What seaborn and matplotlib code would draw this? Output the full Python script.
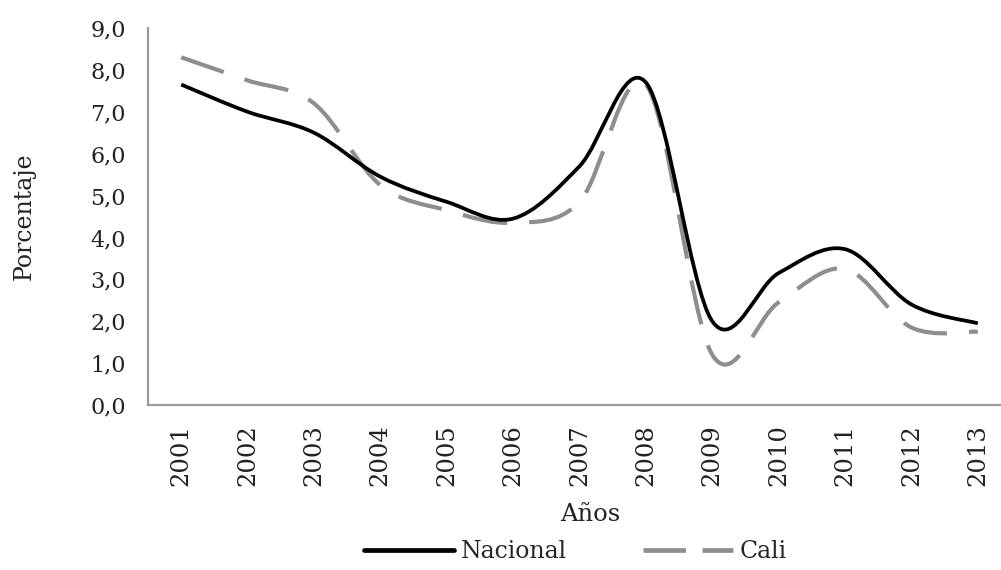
import numpy as np
import pandas as pd
import seaborn as sns
import matplotlib.pyplot as plt
from matplotlib.path import Path
from matplotlib.patches import PathPatch
from matplotlib.lines import Line2D


years = list(range(2001, 2014))
nacional = [7.65, 7.0, 6.5, 5.45, 4.85, 4.45, 5.7, 7.7, 2.0, 3.15, 3.72, 2.4, 1.95]
cali = [8.3, 7.75, 7.2, 5.25, 4.65, 4.35, 4.85, 7.65, 1.2, 2.45, 3.25, 1.85, 1.75]
series = ["Nacional", "Cali"]
colors = {"Nacional": "black", "Cali": "#8e8e8e"}

sns.set_style("white")
plt.rcParams["font.family"] = ["DejaVu Serif"]
plt.rcParams["font.size"] = 16

df = pd.DataFrame({
    "Años": years * 2,
    "Porcentaje": nacional + cali,
    "Serie": ["Nacional"] * len(years) + ["Cali"] * len(years),
})

fig = plt.figure(figsize=(10.01, 5.70), dpi=100)
ax = fig.add_axes([148 / 1001, 165 / 570, 863 / 1001, 377 / 570])

sns.lineplot(data=df, x="Años", y="Porcentaje", hue="Serie",
             hue_order=series, palette=colors, legend=False, ax=ax)


def smooth_path(x, y):
    """ Excel-like smoothed line: cubic Bezier through the points """
    pts = np.column_stack([x, y])
    verts = [pts[0]]
    codes = [Path.MOVETO]
    n = len(pts)
    for i in range(n - 1):
        p0 = pts[max(i - 1, 0)]
        p1 = pts[i]
        p2 = pts[i + 1]
        p3 = pts[min(i + 2, n - 1)]
        c1 = p1 + (p2 - p0) / 6.0
        c2 = p2 - (p3 - p1) / 6.0
        verts += [c1, c2, p2]
        codes += [Path.CURVE4] * 3
    return Path(verts, codes)


""" replace seaborn's straight segments with smoothed curves """
styles = {
    "Nacional": dict(lw=2.7, ls="-", z=4),
    "Cali": dict(lw=3.0, ls=(0, (10.8, 5.3)), z=3),
}
for line, name in zip(list(ax.lines), series):
    x, y = line.get_data()
    line.set_visible(False)
    st = styles[name]
    ax.add_patch(PathPatch(smooth_path(x, y), facecolor="none",
                           edgecolor=colors[name], lw=st["lw"],
                           linestyle=st["ls"], zorder=st["z"],
                           capstyle="butt"))

ax.set_xlim(2000.5, 2013.5)
ax.set_ylim(0, 9)
ax.set_xticks(years)
ax.set_xticklabels([str(y) for y in years], rotation=90, fontsize=17.5)
ax.set_xticks(np.arange(2000.5, 2013.6, 1.0), minor=True)
ax.set_yticks(range(0, 10))
ax.set_yticklabels([f"{v:.1f}".replace(".", ",") for v in range(0, 10)])

sns.despine(ax=ax)
for side in ["left", "bottom"]:
    ax.spines[side].set_color("#9a9a9a")
    ax.spines[side].set_linewidth(1.6)

ax.tick_params(axis="y", which="major", direction="out", length=7,
               width=1.4, color="#9a9a9a", pad=9, labelcolor="#222222")
ax.tick_params(axis="x", which="major", length=0, pad=14,
               labelcolor="#222222")
ax.tick_params(axis="x", which="minor", direction="out", length=6,
               width=1.4, color="#9a9a9a")

ax.set_xlabel("Años", color="#222222", fontsize=17.5)
ax.set_ylabel("Porcentaje", color="#222222", fontsize=17)
ax.xaxis.set_label_coords(0.512, -0.26)
ax.yaxis.set_label_coords(-0.13, 0.5)

handles = [
    Line2D([], [], color=colors["Nacional"], lw=3.4, ls="-"),
    Line2D([], [], color=colors["Cali"], lw=3.4, ls=(0, (9, 3.5))),
]
fig.legend(handles, series, loc="center", bbox_to_anchor=(0.575, 0.032),
           ncol=2, frameon=False, handlelength=3.8, handletextpad=0.3,
           columnspacing=3.2, fontsize=17)

fig.savefig("out.png", dpi=100)
